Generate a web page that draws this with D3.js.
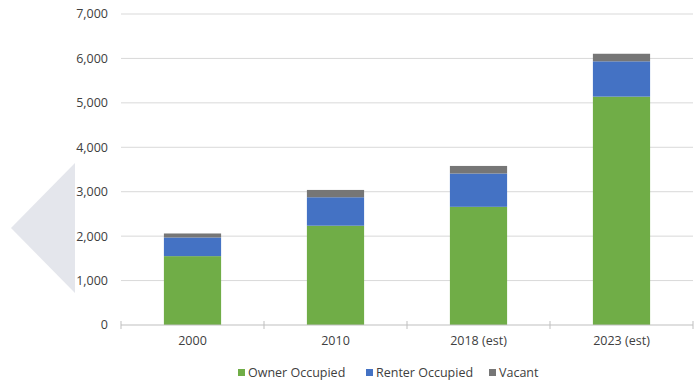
<!DOCTYPE html>
<html>
<head>
<meta charset="utf-8">
<script src="https://cdn.jsdelivr.net/npm/d3@7"></script>
<style>
  body { margin: 0; background: #fff; }
  svg { display: block; font-family: "Open Sans", sans-serif; }
</style>
</head>
<body>
<svg id="chart"></svg>
<script>
const width = 700,
      height = 384;

const years = ["2000", "2010", "2018 (est)", "2023 (est)"];
const ownerOccupied = [1550, 2235, 2660, 5140];
const renterOccupied = [420, 640, 750, 795];
const vacant = [90, 165, 170, 170];
const seriesNames = ["Owner Occupied", "Renter Occupied", "Vacant"];
const yTicks = [0, 1000, 2000, 3000, 4000, 5000, 6000, 7000];

const colors = ["#70ad47", "#4472c4", "#767676"];

const margin = { top: 14, right: 7, bottom: 59, left: 121 };

const svg = d3.select("#chart")
  .attr("width", width)
  .attr("height", height);

// light arrow decoration on the left
svg.append("polygon")
  .attr("points", "11,228 75,163 75,293")
  .attr("fill", "#e4e6ec");

const rows = years.map((y, i) => ({
  year: y,
  "Owner Occupied": ownerOccupied[i],
  "Renter Occupied": renterOccupied[i],
  "Vacant": vacant[i]
}));

const stacked = d3.stack().keys(seriesNames)(rows);

const x = d3.scaleBand()
  .domain(years)
  .range([margin.left, width - margin.right])
  .paddingInner(0.6)
  .paddingOuter(0.3);

const y = d3.scaleLinear()
  .domain([0, 7000])
  .range([height - margin.bottom, margin.top]);

// gridlines
svg.append("g")
  .selectAll("line")
  .data(yTicks.filter(d => d > 0))
  .join("line")
  .attr("x1", margin.left)
  .attr("x2", width - margin.right)
  .attr("y1", d => y(d))
  .attr("y2", d => y(d))
  .attr("stroke", "#d9d9d9")
  .attr("stroke-width", 1);

// y labels
svg.append("g")
  .selectAll("text")
  .data(yTicks)
  .join("text")
  .attr("x", 108)
  .attr("y", d => y(d))
  .attr("dy", "0.35em")
  .attr("text-anchor", "end")
  .attr("font-size", 12.5)
  .attr("fill", "#404040")
  .text(d => d3.format(",")(d));

// bars
svg.append("g")
  .selectAll("g")
  .data(stacked)
  .join("g")
  .attr("fill", (d, i) => colors[i])
  .selectAll("rect")
  .data(d => d)
  .join("rect")
  .attr("x", d => x(d.data.year))
  .attr("width", x.bandwidth())
  .attr("y", d => y(d[1]))
  .attr("height", d => y(d[0]) - y(d[1]));

// x axis
const x0 = y(0);
const axis = svg.append("g");
axis.append("line")
  .attr("x1", margin.left)
  .attr("x2", width - margin.right)
  .attr("y1", x0)
  .attr("y2", x0)
  .attr("stroke", "#bfbfbf");

const step = x.step();
const boundaries = d3.range(years.length + 1).map(i => margin.left + i * (width - margin.left - margin.right) / years.length);
axis.selectAll(".tick")
  .data(boundaries)
  .join("line")
  .attr("x1", d => d)
  .attr("x2", d => d)
  .attr("y1", x0 - 4)
  .attr("y2", x0 + 4)
  .attr("stroke", "#bfbfbf");

axis.selectAll("text")
  .data(years)
  .join("text")
  .attr("x", d => x(d) + x.bandwidth() / 2)
  .attr("y", 341)
  .attr("dy", "0.35em")
  .attr("text-anchor", "middle")
  .attr("font-size", 12.5)
  .attr("fill", "#404040")
  .text(d => d);

// legend
const legendX = [238, 366, 489];
const legend = svg.append("g");
seriesNames.forEach((name, i) => {
  legend.append("rect")
    .attr("x", legendX[i])
    .attr("y", 369)
    .attr("width", 7)
    .attr("height", 7)
    .attr("fill", colors[i]);
  legend.append("text")
    .attr("x", legendX[i] + 10)
    .attr("y", 373)
    .attr("dy", "0.35em")
    .attr("font-size", 12.5)
    .attr("fill", "#404040")
    .text(name);
});
</script>
</body>
</html>
